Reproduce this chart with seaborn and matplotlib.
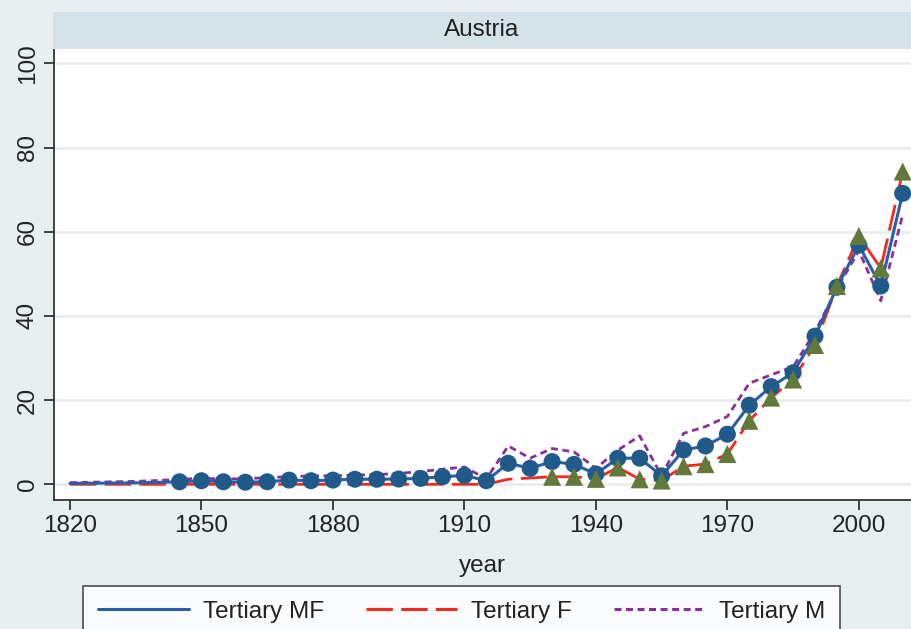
import matplotlib
matplotlib.use("Agg")
import matplotlib.pyplot as plt
from matplotlib.patches import Rectangle
from matplotlib.lines import Line2D
import seaborn as sns
import pandas as pd

# ---------------- data ----------------
years = [1820, 1825, 1830, 1835, 1840, 1845, 1850, 1855, 1860, 1865, 1870, 1875,
         1880, 1885, 1890, 1895, 1900, 1905, 1910, 1915, 1920, 1925, 1930, 1935,
         1940, 1945, 1950, 1955, 1960, 1965, 1970, 1975, 1980, 1985, 1990, 1995,
         2000, 2005, 2010]
tertiary_mf = [0.2, 0.25, 0.3, 0.35, 0.45, 0.6, 0.85, 0.6, 0.5, 0.6, 1.0, 0.85,
               1.0, 1.2, 1.2, 1.25, 1.4, 1.8, 2.1, 0.85, 5.0, 3.8, 5.4, 4.75,
               2.45, 6.2, 6.2, 2.0, 8.15, 9.1, 11.9, 18.8, 23.2, 26.5, 35.2, 46.8,
               56.8, 47.1, 69.1]
tertiary_f = [0.0, 0.0, 0.0, 0.0, 0.0, 0.0, 0.0, 0.0, 0.0, 0.0, 0.0, 0.0,
              0.0, 0.0, 0.0, 0.0, 0.0, 0.0, 0.0, 0.0, 1.2, 1.5, 1.8, 1.8,
              1.3, 4.0, 1.2, 0.9, 4.3, 4.8, 7.2, 15.1, 20.6, 24.9, 33.1, 47.1,
              59.0, 51.3, 74.3]
tertiary_m = [0.4, 0.5, 0.6, 0.7, 0.9, 1.2, 1.4, 1.3, 1.3, 1.6, 1.8, 2.0,
              2.0, 2.2, 2.3, 2.6, 3.0, 3.6, 4.1, 1.3, 9.1, 6.2, 8.5, 7.7,
              3.8, 8.1, 11.5, 2.0, 12.1, 13.7, 16.1, 24.0, 26.0, 27.9, 36.2, 46.5,
              55.5, 43.6, 64.0]
mf_marker_from = 1845
f_marker_from = 1930

x_ticks = [1820, 1850, 1880, 1910, 1940, 1970, 2000]
y_ticks = [0, 20, 40, 60, 80, 100]
series_labels = ["Tertiary MF", "Tertiary F", "Tertiary M"]
panel_title = "Austria"
x_label = "year"

df = pd.DataFrame({"year": years, "mf": tertiary_mf, "f": tertiary_f, "m": tertiary_m})
df_mf_pts = df[df["year"] >= mf_marker_from]
df_f_pts = df[df["year"] >= f_marker_from]

# ---------------- style ----------------
sns.set_theme(style="white")
plt.rcParams["font.family"] = ["Liberation Sans", "DejaVu Sans"]
plt.rcParams["lines.scale_dashes"] = False

BG = "#E8EFF1"
STRIP = "#D5E2E8"
C_MF = "#2A5EA8"
C_F = "#F2291E"
C_M = "#8B2E9A"
C_CIRC = "#1F5A8A"
C_TRI = "#63793A"
FS = 17.5

W, H = 911, 629
fig = plt.figure(figsize=(W / 100, H / 100), dpi=100, facecolor=BG)
ax = fig.add_axes([54 / W, 1 - 500 / H, (W - 54) / W, (500 - 49) / H])
ax.set_facecolor("white")

dash_f = (0, (19, 6))
dash_m = (0, (5, 3.3))

sns.lineplot(data=df, x="year", y="m", ax=ax, color=C_M, lw=2.0, linestyle=dash_m, zorder=2)
sns.lineplot(data=df, x="year", y="f", ax=ax, color=C_F, lw=2.0, linestyle=dash_f, zorder=2)
sns.lineplot(data=df, x="year", y="mf", ax=ax, color=C_MF, lw=2.2, zorder=3)
sns.scatterplot(data=df_mf_pts, x="year", y="mf", ax=ax, color=C_CIRC, marker="o",
                s=150, edgecolor="none", zorder=4)
sns.scatterplot(data=df_f_pts, x="year", y="f", ax=ax, color=C_TRI, marker="^",
                s=170, edgecolor="none", zorder=5)

ax.set_xlim(1816.35, 2011.9)
ax.set_ylim(-3.73, 103.4)
ax.set_xticks(x_ticks)
ax.set_xticklabels([str(t) for t in x_ticks], fontsize=FS, color="#222222")
ax.set_yticks(y_ticks)
ax.set_yticklabels([str(t) for t in y_ticks], fontsize=FS, rotation=90, va="center",
                   color="#222222")
ax.tick_params(axis="both", direction="out", length=7, width=1.3, color="#333333",
               bottom=True, left=True, pad=4)
ax.yaxis.grid(True, color="#E6ECEF", lw=1.8)
ax.xaxis.grid(False)
ax.set_axisbelow(True)
for s in ["top", "right"]:
    ax.spines[s].set_visible(False)
for s in ["left", "bottom"]:
    ax.spines[s].set_color("#333333")
    ax.spines[s].set_linewidth(1.3)
ax.set_xlabel(x_label, fontsize=FS, color="#222222", labelpad=13)
ax.set_ylabel("")

# strip title
fig.patches.append(Rectangle((53 / W, 1 - 49 / H), (W - 53) / W, 37 / H,
                             transform=fig.transFigure, facecolor=STRIP,
                             edgecolor="none", zorder=0))
fig.text(482 / W, 1 - 30 / H, panel_title, ha="center", va="center", fontsize=FS,
         color="#222222")

# legend
handles = [Line2D([], [], color=C_MF, lw=2.2),
           Line2D([], [], color=C_F, lw=2.2, linestyle=dash_f),
           Line2D([], [], color=C_M, lw=2.2, linestyle=dash_m)]
leg = fig.legend(handles, series_labels, loc="upper left",
                 bbox_to_anchor=(83 / W, 1 - 586 / H), bbox_transform=fig.transFigure,
                 ncol=3, fontsize=FS, frameon=True, fancybox=False,
                 handlelength=3.75, handletextpad=0.6, columnspacing=1.7,
                 borderpad=0.6, borderaxespad=0)
leg.get_frame().set_edgecolor("#222222")
leg.get_frame().set_linewidth(1.2)
leg.get_frame().set_facecolor("white")
for t in leg.get_texts():
    t.set_color("#222222")

fig.savefig("out.png", dpi=100, facecolor=BG)
